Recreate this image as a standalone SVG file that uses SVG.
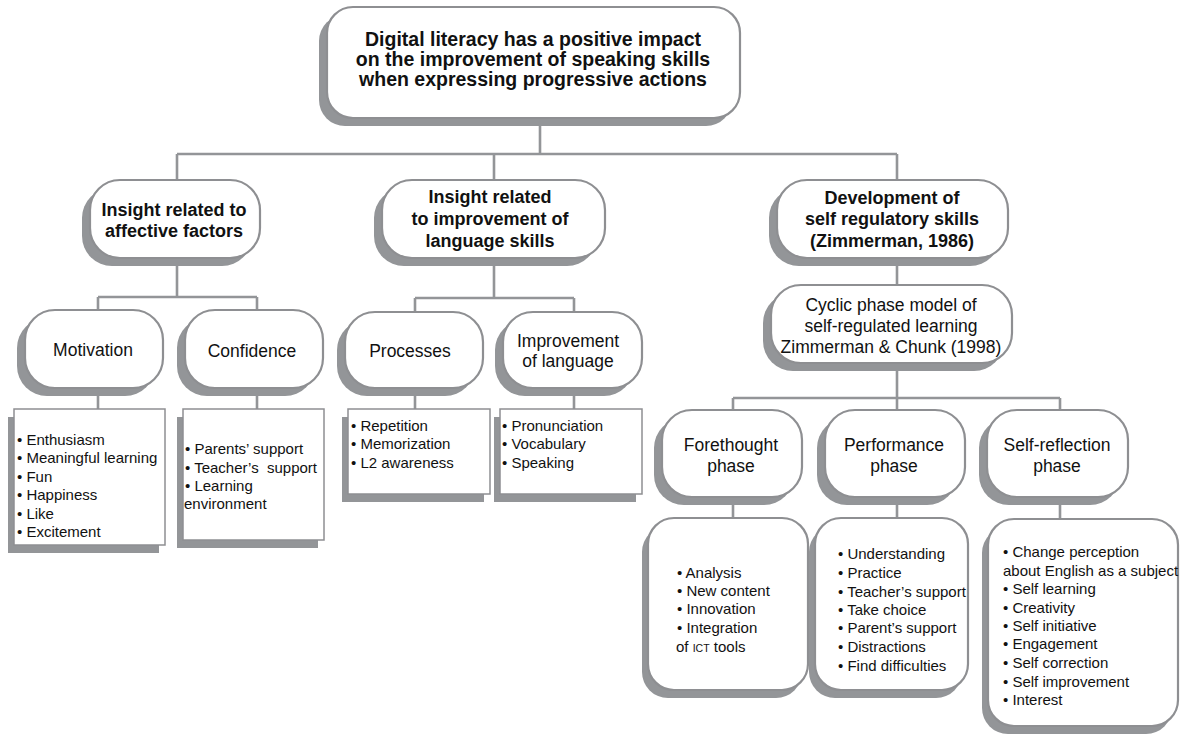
<svg xmlns="http://www.w3.org/2000/svg" width="1181" height="734" viewBox="0 0 1181 734">
<defs>
<style>
.sh{fill:#939598;stroke:none}
.bx{fill:#fff;stroke:#8e8f92;stroke-width:2.2}
.lb{fill:#fff;stroke:#8e8f92;stroke-width:1.5}
.cn{fill:none;stroke:#939598;stroke-width:2.6}
text{font-family:"Liberation Sans",Arial,sans-serif;fill:#111}
.t{font-size:19.5px;font-weight:bold;text-anchor:middle}
.h{font-size:18px;font-weight:bold;text-anchor:middle}
.n{font-size:17.5px;text-anchor:middle}
.l{font-size:15px}
</style>
</defs>
<rect width="1181" height="734" fill="#fff"/>
<g id="connectors">
<path class="cn" d="M540 118V154M177 154H897M177 154V180M494 154V180M897 154V180"/>
<path class="cn" d="M177 258V297M98 297H257M98 297V310M257 297V310M98 388V409M257 388V409"/>
<path class="cn" d="M494 258V298M415 298H574M415 298V312M574 298V312M415 388V409M574 388V409"/>
<path class="cn" d="M897 258V285M897 363V398M733 398H1060M733 398V410M897 398V410M1060 398V410M733 497V518M897 497V518M1060 497V519"/>
</g>
<g id="root">
<rect class="sh" x="319" y="15" width="413" height="111" rx="26"/>
<rect class="bx" x="327" y="7" width="413" height="111" rx="26"/>
<text class="t" x="533" y="46">Digital literacy has a positive impact</text>
<text class="t" x="533" y="66">on the improvement of speaking skills</text>
<text class="t" x="533" y="86">when expressing progressive actions</text>
</g>
<g id="affective">
<rect class="sh" x="82" y="188" width="170" height="78" rx="30"/>
<rect class="bx" x="90" y="180" width="170" height="78" rx="30"/>
<text class="h" x="174" y="216">Insight related to</text>
<text class="h" x="174" y="237">affective factors</text>
</g>
<g id="language">
<rect class="sh" x="374" y="188" width="223" height="78" rx="30"/>
<rect class="bx" x="382" y="180" width="223" height="78" rx="30"/>
<text class="h" x="490" y="203">Insight related</text>
<text class="h" x="490" y="225">to improvement of</text>
<text class="h" x="490" y="247">language skills</text>
</g>
<g id="development">
<rect class="sh" x="769" y="188" width="231" height="78" rx="30"/>
<rect class="bx" x="777" y="180" width="231" height="78" rx="30"/>
<text class="h" x="892" y="204">Development of</text>
<text class="h" x="892" y="225">self regulatory skills</text>
<text class="h" x="892" y="247">(Zimmerman, 1986)</text>
</g>
<g id="motivation">
<rect class="sh" x="17" y="318" width="138" height="78" rx="30"/>
<rect class="bx" x="25" y="310" width="138" height="78" rx="30"/>
<text class="n" x="93" y="356">Motivation</text>
</g>
<g id="confidence">
<rect class="sh" x="177" y="318" width="138" height="78" rx="30"/>
<rect class="bx" x="185" y="310" width="138" height="78" rx="30"/>
<text class="n" x="252" y="357">Confidence</text>
</g>
<g id="processes">
<rect class="sh" x="337" y="320" width="138" height="76" rx="30"/>
<rect class="bx" x="345" y="312" width="138" height="76" rx="30"/>
<text class="n" x="410" y="357">Processes</text>
</g>
<g id="improvement">
<rect class="sh" x="495" y="320" width="139" height="76" rx="30"/>
<rect class="bx" x="503" y="312" width="139" height="76" rx="30"/>
<text class="n" x="568" y="347">Improvement</text>
<text class="n" x="568" y="367">of language</text>
</g>
<g id="cyclic">
<rect class="sh" x="763" y="293" width="241" height="78" rx="30"/>
<rect class="bx" x="771" y="285" width="241" height="78" rx="30"/>
<text class="n" x="891" y="311">Cyclic phase model of</text>
<text class="n" x="891" y="332">self-regulated learning</text>
<text class="n" x="891" y="353">Zimmerman &amp; Chunk (1998)</text>
</g>
<g id="motivation-list">
<rect class="sh" x="8" y="417" width="151" height="136"/>
<rect class="lb" x="14" y="409" width="151" height="136"/>
<text class="l" x="17" y="445">• Enthusiasm</text>
<text class="l" x="17" y="463">• Meaningful learning</text>
<text class="l" x="17" y="482">• Fun</text>
<text class="l" x="17" y="500">• Happiness</text>
<text class="l" x="17" y="519">• Like</text>
<text class="l" x="17" y="537">• Excitement</text>
</g>
<g id="confidence-list">
<rect class="sh" x="177" y="417" width="141" height="131"/>
<rect class="lb" x="183" y="409" width="141" height="131"/>
<text class="l" x="185" y="454">• Parents’ support</text>
<text class="l" x="185" y="473" xml:space="preserve">• Teacher’s  support</text>
<text class="l" x="185" y="491">• Learning</text>
<text class="l" x="184" y="509">environment</text>
</g>
<g id="processes-list">
<rect class="sh" x="342" y="417" width="142" height="85"/>
<rect class="lb" x="348" y="409" width="142" height="85"/>
<text class="l" x="351" y="431">• Repetition</text>
<text class="l" x="351" y="449">• Memorization</text>
<text class="l" x="351" y="468">• L2 awareness</text>
</g>
<g id="improvement-list">
<rect class="sh" x="494" y="417" width="142" height="85"/>
<rect class="lb" x="500" y="409" width="142" height="85"/>
<text class="l" x="502" y="431">• Pronunciation</text>
<text class="l" x="502" y="449">• Vocabulary</text>
<text class="l" x="502" y="468">• Speaking</text>
</g>
<g id="forethought">
<rect class="sh" x="654" y="418" width="140" height="87" rx="30"/>
<rect class="bx" x="662" y="410" width="140" height="87" rx="30"/>
<text class="n" x="731" y="451">Forethought</text>
<text class="n" x="731" y="472">phase</text>
</g>
<g id="performance">
<rect class="sh" x="817" y="418" width="140" height="87" rx="30"/>
<rect class="bx" x="825" y="410" width="140" height="87" rx="30"/>
<text class="n" x="894" y="451">Performance</text>
<text class="n" x="894" y="472">phase</text>
</g>
<g id="selfreflection">
<rect class="sh" x="979" y="418" width="141" height="87" rx="30"/>
<rect class="bx" x="987" y="410" width="141" height="87" rx="30"/>
<text class="n" x="1057" y="451">Self-reflection</text>
<text class="n" x="1057" y="472">phase</text>
</g>
<g id="forethought-list">
<rect class="sh" x="642" y="526" width="160" height="172" rx="26"/>
<rect class="bx" x="648" y="518" width="160" height="172" rx="26"/>
<text class="l" x="677" y="578">• Analysis</text>
<text class="l" x="677" y="596">• New content</text>
<text class="l" x="677" y="614">• Innovation</text>
<text class="l" x="677" y="633">• Integration</text>
<text class="l" x="676" y="652">of <tspan font-size="10.5">ICT</tspan> tools</text>
</g>
<g id="performance-list">
<rect class="sh" x="809" y="526" width="153" height="172" rx="26"/>
<rect class="bx" x="815" y="518" width="153" height="172" rx="26"/>
<text class="l" x="838" y="559">• Understanding</text>
<text class="l" x="838" y="578">• Practice</text>
<text class="l" x="838" y="597">• Teacher’s support</text>
<text class="l" x="838" y="615">• Take choice</text>
<text class="l" x="838" y="633">• Parent’s support</text>
<text class="l" x="838" y="652">• Distractions</text>
<text class="l" x="838" y="671">• Find difficulties</text>
</g>
<g id="selfreflection-list">
<rect class="sh" x="982" y="527" width="190" height="207" rx="26"/>
<rect class="bx" x="988" y="519" width="190" height="207" rx="26"/>
<text class="l" x="1003" y="557">• Change perception</text>
<text class="l" x="1003" y="576">about English as a subject</text>
<text class="l" x="1003" y="594">• Self learning</text>
<text class="l" x="1003" y="613">• Creativity</text>
<text class="l" x="1003" y="631">• Self initiative</text>
<text class="l" x="1003" y="649">• Engagement</text>
<text class="l" x="1003" y="668">• Self correction</text>
<text class="l" x="1003" y="687">• Self improvement</text>
<text class="l" x="1003" y="705">• Interest</text>
</g>
</svg>
